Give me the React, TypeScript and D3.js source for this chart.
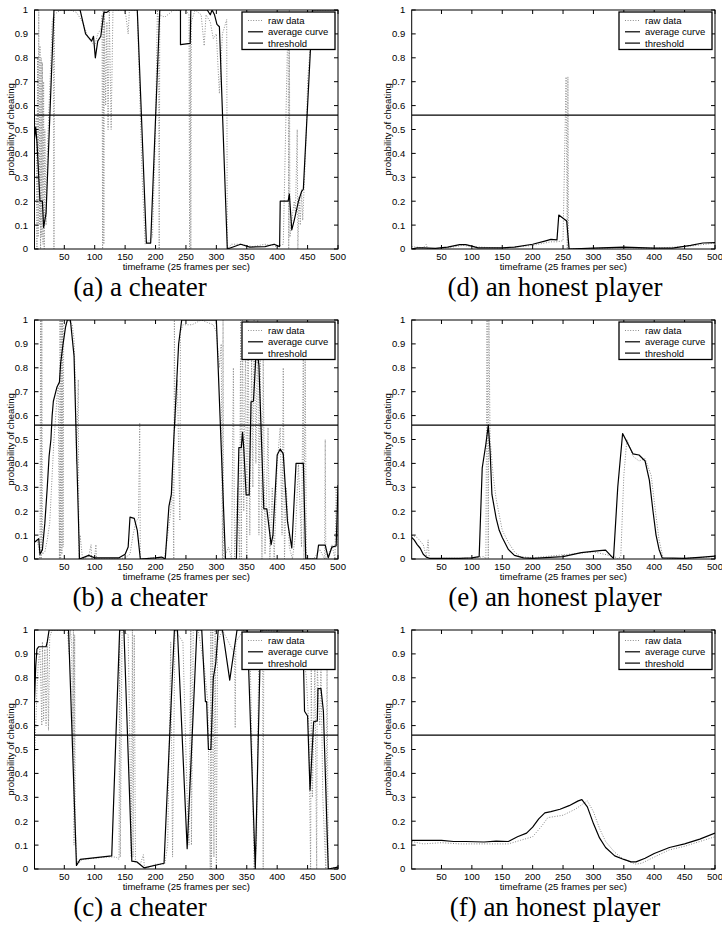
import * as d3 from 'd3';

type Pt = [number, number];

const X_TICKS = [50, 100, 150, 200, 250, 300, 350, 400, 450, 500];
const Y_TICKS = [0, 0.1, 0.2, 0.3, 0.4, 0.5, 0.6, 0.7, 0.8, 0.9, 1];
const Y_TICK_LABELS = ['0', '0.1', '0.2', '0.3', '0.4', '0.5', '0.6', '0.7', '0.8', '0.9', '1'];
const THRESHOLD = 0.56;
const LEGEND_LABELS = ['raw data', 'average curve', 'threshold'];
const X_LABEL = 'timeframe (25 frames per sec)';
const Y_LABEL = 'probability of cheating';

// (a) a cheater
const rawA: Pt[] = [[1,0.5],[4,0.55],[5,0],[6,0.8],[7,0.05],[8,1],[9,0.1],[10,0.85],[11,0],[12,0.8],[13,0.05],[14,0.78],[15,0.02],[16,0.7],[17,0],[18,0.5],[20,0.1],[22,0.4],[25,0.6],[28,0.8],[30,0.95],[32,0.97],[33,0],[34,0.98],[38,0.99],[45,1],[60,1],[70,0.99],[80,0.95],[90,0.88],[100,0.85],[105,0.9],[110,0.92],[112,0.98],[113,0],[114,1],[115,0.02],[116,1],[118,0.6],[120,0.95],[122,0.5],[124,1],[127,0.5],[130,1],[150,1],[155,0.9],[157,1],[170,1],[178,0.3],[183,0.02],[195,0.05],[200,0.5],[203,1],[205,0.95],[206,0],[207,0.98],[215,0.97],[230,1],[250,1],[255,0.98],[256,0],[257,0.97],[258,0],[259,0.95],[265,1],[275,0.98],[280,0.85],[283,0.98],[290,0.95],[295,0.88],[300,0.9],[305,0.65],[310,0.9],[317,0.96],[318,0],[325,0.02],[340,0.02],[360,0.01],[380,0.02],[400,0.01],[410,0.02],[418,0.99],[419,0],[420,1],[421,0.05],[423,0.1],[428,0.2],[430,0.15],[433,0.5],[434,0],[436,0.22],[438,0.1],[440,0.25],[442,0.12],[445,0.3],[448,0.5],[450,0.7],[453,0.8],[455,0.97],[460,1],[500,1]];
const avgA: Pt[] = [[1,0.46],[3,0.51],[5,0.45],[10,0.2],[14,0.2],[16,0.09],[20,0.15],[33,1],[76,1],[85,0.9],[95,0.87],[98,0.89],[101,0.8],[105,0.87],[110,0.89],[112,0.93],[115,0.99],[120,0.99],[125,1],[170,1],[185,0.025],[192,0.025],[207,1],[241,1],[241,0.855],[257,0.86],[258,1],[285,1],[290,0.98],[293,1],[297,0.98],[301,0.94],[305,0.93],[318,0],[340,0.02],[355,0.008],[380,0.01],[395,0.02],[404,0.01],[405,0.2],[418,0.2],[420,0.23],[424,0.08],[428,0.12],[435,0.2],[440,0.24],[443,0.25],[458,1],[500,1]];

// (b) a cheater
const rawB: Pt[] = [[1,0.07],[5,0.08],[8,0.05],[10,0],[11,1],[12,0],[13,1],[14,0.02],[18,0.03],[22,0.08],[26,0.15],[30,0.35],[33,0.5],[36,0.6],[38,0.68],[40,0.72],[42,0],[43,1],[44,0],[45,1],[46,0.02],[47,1],[48,0.05],[49,0.98],[52,0.98],[55,1],[60,0.99],[63,0.98],[66,0.92],[68,0.75],[70,0.4],[73,0.75],[74,0],[76,0.1],[80,0],[90,0.01],[94,0.06],[95,0],[100,0.01],[102,0.06],[103,0],[140,0],[150,0.005],[158,0.02],[163,0.1],[168,0.16],[172,0.17],[174,0.57],[175,0],[200,0.005],[215,0.005],[220,0.1],[225,0.2],[228,0.4],[230,0],[231,1],[232,0.55],[236,0.75],[240,0.16],[241,0.95],[245,0.98],[260,0.98],[275,1],[285,0.99],[295,0.98],[300,0.95],[305,0.8],[308,0.9],[310,0],[311,1],[312,0],[320,0.05],[325,0],[328,0.8],[330,0],[335,0.3],[338,0],[340,1],[341,0],[343,1],[345,0.2],[348,0.9],[350,0],[352,1],[355,0.1],[358,0.85],[360,0.3],[362,1],[365,0.4],[368,1],[370,0.1],[372,0.85],[375,0],[377,0.85],[380,0.02],[385,0.55],[388,0],[392,0.3],[395,0],[400,0.4],[405,0.55],[408,0.1],[410,0.8],[412,0],[415,0.3],[420,0.05],[425,0],[430,0.1],[435,0.4],[440,0.05],[443,0.9],[444,0],[446,0.85],[448,0],[460,0],[470,0.04],[478,0],[479,0.5],[480,0],[485,0.02],[490,0.06],[495,0],[497,0.3],[500,0.05]];
const avgB: Pt[] = [[1,0.07],[8,0.085],[10,0.02],[14,0.04],[18,0.15],[22,0.3],[25,0.43],[28,0.5],[30,0.6],[32,0.66],[38,0.72],[42,0.74],[44,0.82],[48,0.9],[52,0.97],[55,1],[60,1],[66,0.85],[75,0],[85,0.01],[90,0.015],[95,0.01],[100,0.005],[140,0.005],[150,0.02],[155,0.05],[158,0.175],[165,0.17],[170,0.12],[175,0],[200,0.005],[210,0.008],[216,0],[222,0.22],[226,0.27],[230,0.5],[234,0.7],[238,0.9],[243,1],[300,1],[315,0],[333,0],[337,0.466],[341,0.466],[343,0.53],[345,0.466],[349,0.268],[354,0.268],[357,0.658],[361,0.66],[366,0.895],[370,0.81],[378,0.21],[383,0.21],[390,0.06],[393,0.1],[400,0.435],[405,0.46],[410,0.44],[417,0.156],[424,0.046],[431,0.4],[443,0.4],[447,0],[465,0],[468,0.058],[479,0.058],[484,0.005],[490,0.05],[497,0.055],[500,0.31]];

// (c) a cheater
const rawC: Pt[] = [[1,0.45],[3,0.6],[5,0.75],[7,0.85],[10,0.92],[13,0.6],[14,0.95],[16,0.62],[18,0.92],[20,0.6],[22,0.95],[24,0.58],[26,0.97],[30,1],[55,1],[58,0.9],[60,1],[62,0.95],[64,0.5],[65,1],[66,0.1],[67,0.98],[68,0.2],[70,0.05],[72,0.02],[80,0.04],[100,0.045],[120,0.05],[135,0.05],[140,0.04],[141,1],[142,0.05],[145,1],[155,0.98],[158,0.5],[160,0.05],[162,1],[163,0.05],[165,0.98],[167,0.03],[175,0.02],[180,0.06],[182,0],[200,0.02],[215,0.02],[220,0.1],[225,0.95],[228,0.05],[232,1],[245,0.95],[252,0.3],[255,0.1],[258,1],[259,0.1],[262,1],[270,1],[280,0.85],[286,0.7],[290,0],[291,1],[292,0],[294,1],[296,0.05],[298,1],[300,0],[302,0.95],[310,1],[320,0.95],[330,0.9],[331,0.59],[332,0.95],[345,1],[355,0.97],[360,0.3],[362,0],[366,0.1],[370,0.95],[376,1],[377,0],[378,1],[440,0.98],[448,0.8],[452,0.6],[455,0],[456,0.85],[458,0.3],[462,0.85],[465,0],[466,0.85],[470,0.6],[472,0.85],[475,0.3],[480,0],[482,0.85],[484,0],[500,0.01]];
const avgC: Pt[] = [[1,0.7],[3,0.85],[5,0.92],[8,0.93],[20,0.93],[22,0.95],[25,1],[57,1],[70,0.015],[76,0.04],[128,0.055],[141,1],[148,1],[161,0.033],[169,0.03],[181,0.005],[214,0.024],[231,1],[236,1],[252,0.085],[268,1],[276,1],[280,0.8],[282,0.7],[284,0.7],[287,0.5],[291,0.5],[295,0.8],[299,0.86],[303,1],[310,1],[322,0.79],[334,1],[351,1],[364,0],[373,1],[442,1],[445,0.66],[450,0.64],[454,0.33],[460,0.616],[466,0.62],[467,0.755],[472,0.755],[476,0.66],[484,0],[500,0.008]];

// (d) an honest player
const rawD: Pt[] = [[1,0.01],[20,0.005],[25,0.02],[27,0],[60,0.005],[85,0.015],[100,0.01],[150,0.003],[200,0.015],[230,0.03],[240,0.03],[250,0.035],[255,0.72],[257,0],[258,0.72],[259,0],[300,0.003],[350,0.006],[400,0.003],[460,0.012],[500,0.025]];
const avgD: Pt[] = [[1,0],[10,0.005],[20,0.005],[40,0.003],[60,0.008],[80,0.018],[90,0.018],[100,0.012],[110,0.005],[150,0.005],[170,0.008],[200,0.02],[220,0.033],[230,0.04],[240,0.038],[243,0.142],[256,0.117],[260,0],[300,0.004],[350,0.008],[400,0.004],[430,0.004],[460,0.015],[480,0.025],[500,0.027]];

// (e) an honest player
const rawE: Pt[] = [[1,0.1],[10,0.09],[20,0.06],[25,0.01],[28,0.08],[30,0],[50,0.003],[100,0.003],[120,0.01],[123,0],[125,1],[127,0],[128,1],[130,0.5],[135,0.35],[140,0.25],[150,0.12],[160,0.07],[170,0.03],[180,0.01],[200,0.005],[300,0.03],[335,0.01],[340,0],[345,0.01],[350,0.35],[355,0.5],[365,0.43],[375,0.41],[385,0.42],[395,0.35],[402,0.2],[408,0.08],[415,0],[450,0.003],[500,0.01]];
const avgE: Pt[] = [[1,0.09],[5,0.08],[10,0.06],[15,0.045],[20,0.02],[25,0.008],[30,0.003],[50,0.003],[80,0.003],[100,0.005],[112,0.01],[117,0.38],[123,0.48],[127,0.56],[130,0.45],[133,0.27],[140,0.17],[145,0.12],[150,0.09],[160,0.04],[170,0.015],[185,0.005],[200,0.003],[250,0.01],[280,0.027],[310,0.035],[320,0.037],[330,0.01],[333,0.003],[340,0.3],[348,0.525],[355,0.49],[365,0.44],[375,0.435],[385,0.41],[392,0.33],[398,0.2],[403,0.1],[408,0.04],[413,0.005],[450,0.003],[480,0.008],[500,0.012]];

// (f) an honest player
const rawF: Pt[] = [[1,0.115],[20,0.105],[50,0.11],[80,0.105],[120,0.105],[160,0.105],[180,0.12],[200,0.135],[215,0.18],[225,0.215],[250,0.225],[270,0.25],[290,0.285],[300,0.24],[310,0.17],[320,0.115],[335,0.07],[350,0.04],[370,0.02],[380,0.025],[400,0.05],[425,0.08],[450,0.095],[475,0.115],[500,0.135]];
const avgF: Pt[] = [[1,0.12],[50,0.12],[70,0.115],[90,0.115],[120,0.113],[140,0.117],[160,0.115],[175,0.135],[190,0.15],[200,0.175],[210,0.21],[220,0.235],[230,0.24],[245,0.25],[260,0.265],[275,0.285],[281,0.29],[290,0.26],[300,0.19],[310,0.13],[320,0.09],[335,0.055],[350,0.04],[362,0.03],[370,0.03],[385,0.045],[400,0.065],[425,0.09],[450,0.105],[475,0.125],[500,0.15]];

const PANELS = [
  { id: 'a', caption: '(a) a cheater', raw: rawA, avg: avgA, col: 0, row: 0 },
  { id: 'b', caption: '(b) a cheater', raw: rawB, avg: avgB, col: 0, row: 1 },
  { id: 'c', caption: '(c) a cheater', raw: rawC, avg: avgC, col: 0, row: 2 },
  { id: 'd', caption: '(d) an honest player', raw: rawD, avg: avgD, col: 1, row: 0 },
  { id: 'e', caption: '(e) an honest player', raw: rawE, avg: avgE, col: 1, row: 1 },
  { id: 'f', caption: '(f) an honest player', raw: rawF, avg: avgF, col: 1, row: 2 },
];

const COL_X = [[34.5, 338], [411.7, 715]];
const ROW_Y = [[10, 249], [320, 559], [630, 869]];
const CAPTION_X = [140, 555];
const SANS = 'Liberation Sans, Arial, Helvetica, sans-serif';

function Panel({ p }: { p: typeof PANELS[number] }) {
  const [x0, x1] = COL_X[p.col];
  const [y0, y1] = ROW_Y[p.row];
  const x = d3.scaleLinear().domain([1, 500]).range([x0, x1]);
  const y = d3.scaleLinear().domain([0, 1]).range([y1, y0]);
  const line = d3.line<Pt>().x(d => x(d[0])).y(d => y(d[1]));
  const clip = `clip-${p.id}`;
  const lx = x1 - 96;
  const ly = y0 + 2;
  const tick = 4;
  return (
    <g>
      <clipPath id={clip}>
        <rect x={x0} y={y0} width={x1 - x0} height={y1 - y0} />
      </clipPath>
      <g clipPath={`url(#${clip})`}>
        <path d={line(p.raw) ?? ''} fill="none" stroke="#8c8c8c" strokeWidth={1} strokeDasharray="1 1.6" />
        <line x1={x0} x2={x1} y1={y(THRESHOLD)} y2={y(THRESHOLD)} stroke="#000" strokeWidth={1.1} />
        <path d={line(p.avg) ?? ''} fill="none" stroke="#000" strokeWidth={1.2} strokeLinejoin="round" />
      </g>
      {/* ticks inside, all four sides */}
      {X_TICKS.map(t => (
        <g key={`xt${t}`}>
          <line x1={x(t)} x2={x(t)} y1={y1} y2={y1 - tick} stroke="#000" />
          <line x1={x(t)} x2={x(t)} y1={y0} y2={y0 + tick} stroke="#000" />
          <text x={x(t)} y={y1 + 10.5} fontSize={9.5} fontFamily={SANS} textAnchor="middle">{t}</text>
        </g>
      ))}
      {Y_TICKS.map((t, i) => (
        <g key={`yt${t}`}>
          <line x1={x0} x2={x0 + tick} y1={y(t)} y2={y(t)} stroke="#000" />
          <line x1={x1} x2={x1 - tick} y1={y(t)} y2={y(t)} stroke="#000" />
          <text x={x0 - 6.5} y={y(t) + 3.4} fontSize={9.5} fontFamily={SANS} textAnchor="end">{Y_TICK_LABELS[i]}</text>
        </g>
      ))}
      <rect x={x0} y={y0} width={x1 - x0} height={y1 - y0} fill="none" stroke="#000" strokeWidth={1} />
      <text x={(x0 + x1) / 2} y={y1 + 21} fontSize={9.5} fontFamily={SANS} textAnchor="middle">{X_LABEL}</text>
      <text transform={`translate(${x0 - 21},${(y0 + y1) / 2}) rotate(-90)`} fontSize={9.5} fontFamily={SANS} textAnchor="middle">{Y_LABEL}</text>
      {/* legend */}
      <rect x={lx} y={ly} width={93} height={37.5} fill="#fff" stroke="#000" strokeWidth={1.3} />
      {LEGEND_LABELS.map((lab, i) => {
        const ry = ly + 8.5 + i * 11.3;
        return (
          <g key={lab}>
            <line x1={lx + 6} x2={lx + 21} y1={ry} y2={ry} stroke={i === 0 ? '#8c8c8c' : '#000'} strokeWidth={i === 0 ? 1 : 1.2} strokeDasharray={i === 0 ? '1 1.6' : undefined} />
            <text x={lx + 26} y={ry + 3.4} fontSize={9.5} fontFamily={SANS}>{lab}</text>
          </g>
        );
      })}
      <text x={CAPTION_X[p.col]} y={y1 + 47} fontSize={27} fontFamily="Liberation Serif, Times New Roman, serif" textAnchor="middle">{p.caption}</text>
    </g>
  );
}

export default function App() {
  return (
    <div style={{ position: 'absolute', left: 0, top: 0, width: 722, height: 936, background: '#fff' }}>
      <svg width={722} height={936} style={{ display: 'block' }}>
        <rect width={722} height={936} fill="#fff" />
        {PANELS.map(p => <Panel key={p.id} p={p} />)}
      </svg>
    </div>
  );
}
